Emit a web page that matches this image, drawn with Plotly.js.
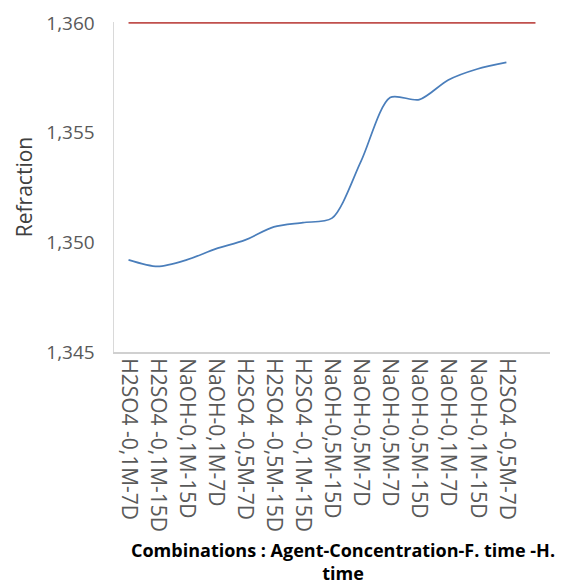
<!DOCTYPE html>
<html>
<head>
<meta charset="utf-8">
<script src="https://cdn.plot.ly/plotly-3.0.1.min.js"></script>
<style>html,body{margin:0;padding:0;background:#fff;}#chart{width:566px;height:587px;}</style>
</head>
<body>
<div id="chart"></div>
<script>
var categories = [
  "H2SO4 -0,1M-7D", "H2SO4 -0,1M-15D", "NaOH-0,1M-15D", "NaOH-0,1M-7D",
  "H2SO4 -0,5M-7D", "H2SO4 -0,5M-15D", "H2SO4 -0,1M-15D", "NaOH-0,5M-15D",
  "NaOH-0,5M-7D", "NaOH-0,5M-7D", "NaOH-0,5M-15D", "NaOH-0,1M-7D",
  "NaOH-0,1M-15D", "H2SO4 -0,5M-7D", ""
];
var refraction = [1.3492, 1.3489, 1.3492, 1.3497, 1.3501, 1.3507, 1.3509, 1.3511,
                  1.3537, 1.3566, 1.3565, 1.3574, 1.3579, 1.3582];
var reference = [1.360, 1.360, 1.360, 1.360, 1.360, 1.360, 1.360, 1.360,
                 1.360, 1.360, 1.360, 1.360, 1.360, 1.360, 1.360];
var yTicks = [1.345, 1.350, 1.355, 1.360];
var xTitle = '<b>Combinations : Agent-Concentration-F. time -H.<br>time</b>';

var pos = categories.map(function(_, i){ return i; });

var traces = [
  {
    x: pos.slice(0, reference.length), y: reference, type: 'scatter', mode: 'lines',
    line: {color: '#C0504D', width: 1.6}, hoverinfo: 'skip'
  },
  {
    x: pos.slice(0, refraction.length), y: refraction, type: 'scatter', mode: 'lines',
    line: {color: '#4A7EBB', width: 1.7, shape: 'spline', smoothing: 0.8}
  }
];

var layout = {
  width: 566, height: 587,
  margin: {l: 114, r: 16, t: 22, b: 235},
  paper_bgcolor: '#fff', plot_bgcolor: '#fff',
  showlegend: false,
  separators: ', ',
  font: {family: 'Open Sans, sans-serif', color: '#595959'},
  xaxis: {
    range: [-0.5, 14.5],
    tickmode: 'array', tickvals: pos, ticktext: categories,
    tickangle: 90,
    tickfont: {size: 21, color: '#595959', family: 'Open Sans, sans-serif'},
    showgrid: false, zeroline: false,
    showline: true, linecolor: '#D0D0D0', linewidth: 2,
    ticks: '', ticklen: 0
  },
  yaxis: {
    range: [1.345, 1.36004],
    tickmode: 'array', tickvals: yTicks,
    tickformat: '.3f',
    tickfont: {size: 19, color: '#595959', family: 'Open Sans, sans-serif'},
    showgrid: false, zeroline: false,
    showline: true, linecolor: '#D9D9D9', linewidth: 1.5,
    ticks: '', ticklabelstandoff: 14,
    title: {
      text: 'Refraction',
      font: {size: 21, color: '#404040', family: 'Open Sans, sans-serif'},
      standoff: 8
    }
  },
  annotations: [{
    text: xTitle, showarrow: false,
    xref: 'paper', yref: 'paper', x: 0.525, y: -0.635,
    xanchor: 'center', yanchor: 'middle',
    font: {size: 18, color: '#000', family: 'Open Sans, sans-serif'}
  }]
};

Plotly.newPlot('chart', traces, layout, {displayModeBar: false, staticPlot: true});
</script>
</body>
</html>
